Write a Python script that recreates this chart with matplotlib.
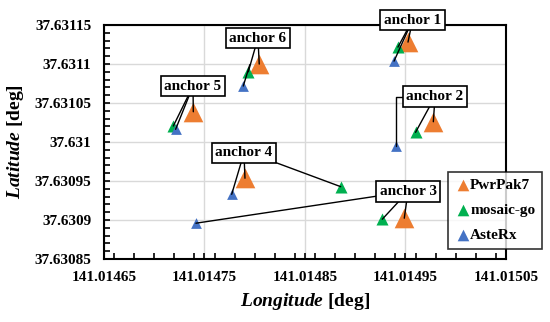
import numpy as np
import matplotlib.pyplot as plt
from matplotlib.ticker import FixedLocator, MultipleLocator, FuncFormatter

plt.rcParams['font.family'] = 'Liberation Serif'
plt.rcParams['font.weight'] = 'bold'
plt.rcParams['mathtext.fontset'] = 'custom'
plt.rcParams['mathtext.rm'] = 'Liberation Serif:bold'
plt.rcParams['mathtext.bfit'] = 'Liberation Serif:italic:bold'

# anchor order: 1..6
anchors = ['anchor 1', 'anchor 2', 'anchor 3', 'anchor 4', 'anchor 5', 'anchor 6']
pwr_lon = [141.0149525, 141.0149777, 141.0149488, 141.0147903, 141.0147389, 141.0148045]
pwr_lat = [37.6311282, 37.6310260, 37.6309022, 37.6309535, 37.6310388, 37.6311000]
mos_lon = [141.0149425, 141.0149600, 141.0149269, 141.0148855, 141.0147190, 141.0147936]
mos_lat = [37.6311218, 37.6310124, 37.6309009, 37.6309427, 37.6310205, 37.6310901]
ast_lon = [141.0149386, 141.0149405, 141.0147415, 141.0147771, 141.0147213, 141.0147886]
ast_lat = [37.6311038, 37.6309953, 37.6308958, 37.6309329, 37.6310163, 37.6310718]

# label box centres
lab_lon = [141.0149570, 141.0149794, 141.0149525, 141.0147893, 141.0147386, 141.0148032]
lab_lat = [37.6311564, 37.6310583, 37.6309365, 37.6309859, 37.6310718, 37.6311333]

fig = plt.figure(figsize=(5.5, 3.22), dpi=100)
ax = fig.add_axes([0.189, 0.196, 0.731, 0.726])

c_pwr, c_mos, c_ast = '#ED7D31', '#00B050', '#4472C4'
ax.scatter(pwr_lon, pwr_lat, marker='^', s=200, color=c_pwr, label='PwrPak7', zorder=3, linewidths=0)
ax.scatter(mos_lon, mos_lat, marker='^', s=75, color=c_mos, label='mosaic-go', zorder=4, linewidths=0)
ax.scatter(ast_lon, ast_lat, marker='^', s=60, color=c_ast, label='AsteRx', zorder=5, linewidths=0)

box = dict(boxstyle='square,pad=0.25', fc='white', ec='black', lw=1.2)
for i, name in enumerate(anchors):
    ax.text(lab_lon[i], lab_lat[i], name, ha='center', va='center', fontsize=11,
            bbox=box, zorder=10, clip_on=False)
    pts = [(pwr_lon[i], pwr_lat[i]), (mos_lon[i], mos_lat[i]), (ast_lon[i], ast_lat[i])]
    for j, (px, py) in enumerate(pts):
        relpos = (0.5, 0)
        cs = 'arc3,rad=0'
        if i == 1 and j == 2:
            relpos = (0, 0.5)
            cs = 'angle,angleA=0,angleB=90,rad=0'
        elif i == 2 and j == 2:
            relpos = (0, 0.5)
        elif i == 3 and j == 1:
            relpos = (1, 0.5)
            cs = 'arc,angleA=0,armA=6,angleB=0,armB=0,rad=0'
        ax.annotate('', xy=(px, py), xytext=(lab_lon[i], lab_lat[i]),
                    textcoords='data', zorder=9,
                    arrowprops=dict(arrowstyle='-', color='black', lw=1.0,
                                    shrinkA=0, shrinkB=0, relpos=relpos,
                                    connectionstyle=cs,
                                    patchA=ax.texts[-1]))

ax.set_xlim(141.01465, 141.01505)
ax.set_ylim(37.63085, 37.63115)
xt = [141.01465, 141.01475, 141.01485, 141.01495, 141.01505]
yt = [37.63085, 37.6309, 37.63095, 37.631, 37.63105, 37.6311, 37.63115]
ax.xaxis.set_major_locator(FixedLocator(xt))
ax.yaxis.set_major_locator(FixedLocator(yt))
ax.xaxis.set_minor_locator(MultipleLocator(0.00002))
ax.yaxis.set_minor_locator(MultipleLocator(0.00001))
fmt = FuncFormatter(lambda v, p: f'{v:.5f}'.rstrip('0').rstrip('.'))
ax.xaxis.set_major_formatter(fmt)
ax.yaxis.set_major_formatter(fmt)
ax.tick_params(which='both', direction='in', labelsize=11, width=1.2, color='black', length=4)
ax.tick_params(axis='x', pad=9)
ax.tick_params(axis='y', pad=9)
ax.grid(True, which='major', color='#d9d9d9', lw=1.0)
ax.set_axisbelow(True)
for sp in ax.spines.values():
    sp.set_linewidth(1.5)

ax.set_xlabel(r'$\mathbfit{Longitude}$ [deg]', fontsize=14, fontweight='bold', labelpad=5)
ax.set_ylabel(r'$\mathbfit{Latitude}$ [deg]', fontsize=14, fontweight='bold', labelpad=6)

leg = ax.legend(loc='center', bbox_to_anchor=(0.973, 0.207), fontsize=11, frameon=True,
                fancybox=False, edgecolor='black', handletextpad=0.0, handlelength=1.0,
                labelspacing=0.75, borderpad=0.45, markerscale=1.0)
leg.get_frame().set_linewidth(1.2)
leg.set_zorder(20)
for h in leg.legend_handles:
    h.set_sizes([70])

fig.savefig('out.png', dpi=100)
